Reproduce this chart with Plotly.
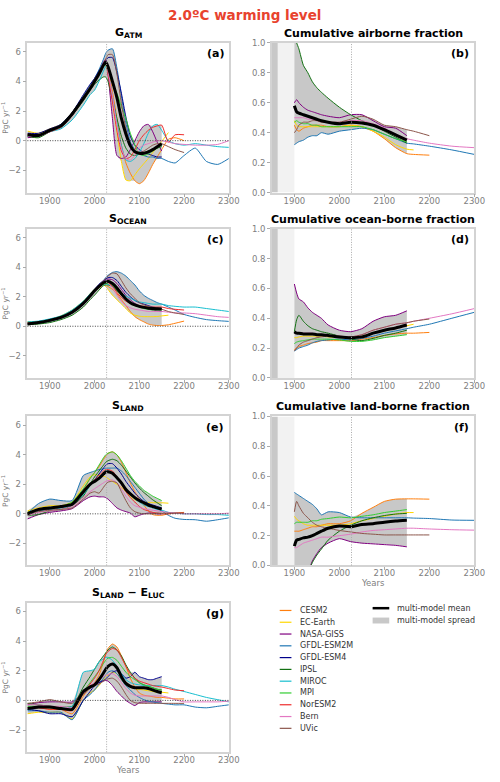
import plotly.graph_objects as go
from plotly.subplots import make_subplots

# ---------------- data ----------------
MODELS = ["CESM2", "EC-Earth", "NASA-GISS", "GFDL-ESM2M", "GFDL-ESM4", "IPSL",
          "MIROC", "MPI", "NorESM2", "Bern", "UVic"]
COLORS = ["#ff7f0e", "#ffd700", "#800080", "#1f77b4", "#00008b", "#127012",
          "#17becf", "#32cd32", "#ee2c2c", "#e377c2", "#8c564b"]

WARMING_YEAR = 2027

YEARS_L = [1850, 1875, 1900, 1925, 1950, 1975, 1990, 2000, 2010, 2020, 2025, 2030,
           2040, 2050, 2060, 2070, 2080, 2090, 2100, 2110, 2120, 2130, 2140, 2150,
           2165, 2180, 2200, 2225, 2250, 2275, 2300]
YEARS_R = [1900, 1905, 1910, 1920, 1930, 1940, 1950, 1960, 1975, 2000, 2025, 2050,
           2075, 2100, 2125, 2150, 2165, 2200, 2250, 2300]

# (a) G_ATM  [PgC/yr]
A_CESM2 = [0.4, 0.35, 0.7, 1.0, 1.8, 2.9, 3.5, 4.0, 4.5, 5.1, 5.3, 4.9, 3.3, 1.5, -0.3, -1.5, -2.2, -2.7, -2.9, -2.7, -2.2, -1.6, -1.1, -0.6, 0.1, 0.2, 0.0]
A_ECEARTH = [0.65, 0.5, 0.8, 1.1, 1.9, 3.0, 3.7, 4.2, 4.6, 5.1, 5.3, 4.6, 2.8, 0.6, -1.4, -2.65, -2.7, -2.3, -1.9, -1.55, -1.2, -0.8, -0.4, -0.05, 0.55]
A_GISS = [0.2, 0.3, 0.6, 0.9, 1.7, 2.8, 3.5, 4.0, 4.6, 5.3, 5.5, 4.5, 1.5, -1.0, -1.2, -1.1, -0.6, 0.0, 0.6, 1.0, 1.1, 0.6, -0.1, -0.7]
A_ESM2M = [0.3, 0.4, 0.7, 1.1, 1.9, 3.0, 3.7, 4.2, 4.8, 5.5, 5.9, 6.1, 6.2, 4.9, 3.0, 1.2, -0.1, -0.6, -0.9, -1.0, -1.1, -1.1, -1.2, -1.2, -1.4, -1.5, -1.0, -0.5, -1.4, -1.6, -1.2]
A_ESM4 = [0.5, 0.5, 0.8, 1.1, 1.9, 3.1, 3.8, 4.2, 4.7, 5.2, 5.4, 5.6, 5.6, 4.6, 3.2, 1.6, 0.3, -0.3, -0.6, -0.8, -0.9, -1.0, -1.1, -1.1]
A_IPSL = [0.3, 0.2, 0.6, 0.9, 1.7, 2.7, 3.4, 3.8, 4.1, 4.3, 4.3, 4.0, 2.8, 1.5, 0.3, -0.5, -0.9, -1.0, -0.9, -0.8, -0.7, -0.6, -0.5, -0.4]
A_MIROC = [0.3, 0.3, 0.6, 0.8, 1.4, 2.4, 3.1, 3.4, 4.0, 4.7, 5.0, 4.6, 3.0, 1.2, -0.3, -1.3, -1.4, -1.2, -0.8, -0.2, 0.5, 1.0, 1.1, 0.7, 0.0, -0.2, -0.3, -0.2, -0.3, -0.4, -0.45]
A_MPI = [0.3, 0.4, 0.7, 1.0, 1.8, 2.8, 3.5, 4.0, 4.5, 5.0, 5.1, 4.6, 3.9, 3.2, 2.3, 1.5, 0.5, -0.3, -0.9, -1.0, -0.9, -0.7, -0.5, -0.3]
A_NORESM2 = [0.4, 0.4, 0.7, 1.0, 1.8, 2.9, 3.6, 4.1, 4.6, 5.1, 5.2, 4.5, 2.6, 0.7, -0.7, -1.2, -1.1, -0.6, 0.0, 0.4, 0.7, 0.9, 1.0, 1.05, -0.1, 0.4, 0.4]
A_BERN = [0.3, 0.3, 0.6, 0.9, 1.7, 2.8, 3.5, 4.0, 4.6, 5.2, 5.4, 4.7, 3.0, 1.0, -0.5, -1.2, -1.3, -1.0, -0.5, -0.3, -0.2, -0.1, 0.0, 0.0, -0.1, -0.2, -0.25, -0.3, -0.3, -0.25, 0.0]
A_UVIC = [0.4, 0.3, 0.6, 0.9, 1.7, 2.8, 3.5, 4.0, 4.6, 5.2, 5.5, 5.8, 5.8, 4.5, 2.5, 0.8, -0.3, -0.7, -0.8, -0.7, -0.5, -0.3, -0.2, -0.2, -0.4, -0.6, -0.8]
A_MEAN = [0.4, 0.35, 0.7, 1.0, 1.8, 2.85, 3.5, 4.0, 4.5, 5.1, 5.3, 5.0, 4.0, 2.9, 1.5, 0.45, -0.35, -0.75, -0.85, -0.85, -0.75, -0.6, -0.4, -0.2]

# (c) S_OCEAN
C_CESM2 = [0.2, 0.25, 0.4, 0.6, 1.0, 1.6, 2.1, 2.4, 2.6, 2.8, 2.8, 2.7, 2.5, 2.2, 1.8, 1.4, 1.0, 0.65, 0.45, 0.3, 0.15, 0.08, 0.05, 0.05, 0.1, 0.2, 0.35]
C_ECEARTH = [0.3, 0.3, 0.45, 0.7, 1.1, 1.7, 2.2, 2.5, 2.7, 2.8, 2.7, 2.5, 2.1, 1.8, 1.5, 1.2, 0.9, 0.75, 0.68, 0.65, 0.65, 0.65, 0.66, 0.7, 0.75]
C_GISS = [0.15, 0.2, 0.35, 0.55, 0.9, 1.5, 2.0, 2.4, 2.75, 3.05, 3.15, 3.2, 3.15, 2.9, 2.5, 2.1, 1.8, 1.55, 1.4, 1.3, 1.2, 1.1, 1.05, 1.0]
C_ESM2M = [0.15, 0.2, 0.35, 0.55, 0.9, 1.5, 2.0, 2.4, 2.75, 3.1, 3.3, 3.45, 3.65, 3.7, 3.6, 3.4, 3.1, 2.8, 2.4, 2.1, 1.9, 1.75, 1.6, 1.5, 1.3, 1.1, 0.8, 0.6, 0.45, 0.38, 0.33]
C_ESM4 = [0.2, 0.25, 0.45, 0.65, 1.05, 1.65, 2.15, 2.5, 2.85, 3.1, 3.2, 3.3, 3.3, 3.1, 2.7, 2.3, 2.0, 1.75, 1.6, 1.5, 1.4, 1.3, 1.25, 1.2]
C_IPSL = [0.1, 0.15, 0.25, 0.45, 0.75, 1.3, 1.8, 2.1, 2.45, 2.75, 2.8, 2.8, 2.7, 2.4, 2.1, 1.8, 1.6, 1.45, 1.35, 1.3, 1.25, 1.2, 1.2, 1.2]
C_MIROC = [0.3, 0.35, 0.5, 0.7, 1.1, 1.7, 2.2, 2.5, 2.7, 2.8, 2.85, 2.85, 2.7, 2.5, 2.25, 2.05, 1.9, 1.75, 1.65, 1.6, 1.55, 1.5, 1.5, 1.5, 1.4, 1.35, 1.3, 1.3, 1.2, 1.1, 1.0]
C_MPI = [0.2, 0.25, 0.4, 0.6, 0.95, 1.55, 2.05, 2.35, 2.65, 2.85, 2.9, 2.9, 2.75, 2.45, 2.1, 1.8, 1.55, 1.4, 1.3, 1.2, 1.15, 1.1, 1.1, 1.1]
C_NORESM2 = [0.2, 0.25, 0.4, 0.6, 1.0, 1.6, 2.1, 2.4, 2.7, 2.95, 3.0, 2.95, 2.7, 2.3, 1.95, 1.7, 1.55, 1.45, 1.4, 1.35, 1.3, 1.3, 1.3, 1.3, 1.2, 1.15, 1.1]
C_BERN = [0.2, 0.25, 0.4, 0.6, 1.0, 1.55, 2.05, 2.4, 2.7, 2.95, 3.0, 2.95, 2.6, 2.1, 1.7, 1.4, 1.25, 1.15, 1.1, 1.05, 1.0, 1.0, 1.0, 1.0, 0.95, 0.9, 0.9, 0.85, 0.75, 0.65, 0.6]
C_UVIC = [0.2, 0.25, 0.4, 0.6, 1.0, 1.6, 2.1, 2.45, 2.8, 3.1, 3.25, 3.4, 3.6, 3.55, 3.1, 2.6, 2.2, 1.9, 1.6, 1.45, 1.35, 1.25, 1.2, 1.15, 1.0, 0.9, 0.8]
C_MEAN = [0.15, 0.25, 0.4, 0.6, 0.95, 1.55, 2.05, 2.4, 2.7, 2.95, 3.0, 3.05, 2.9, 2.6, 2.2, 1.85, 1.6, 1.45, 1.35, 1.28, 1.22, 1.2, 1.18, 1.17]

# (e) S_LAND
E_CESM2 = [0.1, 0.3, 0.4, 0.5, 0.7, 1.6, 2.4, 2.8, 3.2, 3.7, 3.9, 4.1, 4.2, 4.0, 3.5, 2.8, 2.1, 1.5, 1.0, 0.6, 0.2, -0.05, -0.1, -0.1, 0.0, 0.05, 0.1]
E_ECEARTH = [0.2, 0.4, 0.55, 0.55, 0.8, 1.9, 2.5, 2.65, 2.6, 2.55, 2.5, 2.4, 2.2, 2.0, 1.8, 1.5, 1.2, 0.95, 0.85, 0.8, 0.78, 0.76, 0.75, 0.75, 0.72]
E_GISS = [-0.35, -0.05, 0.1, 0.2, 0.35, 0.9, 1.15, 1.2, 1.15, 1.15, 1.1, 1.0, 0.7, 0.4, 0.25, 0.15, 0.05, -0.2, -0.1, 0.0, 0.05, 0.05, 0.0, 0.0]
E_ESM2M = [0.0, 0.7, 1.0, 0.9, 0.9, 2.6, 2.8, 2.9, 3.0, 3.05, 3.1, 3.1, 3.1, 3.1, 2.9, 2.6, 2.2, 1.8, 1.4, 1.0, 0.7, 0.5, 0.35, 0.2, -0.1, -0.3, -0.38, -0.4, -0.5, -0.4, -0.27]
E_ESM4 = [0.0, 0.2, 0.35, 0.45, 0.6, 1.4, 2.0, 2.3, 2.7, 3.1, 3.3, 3.4, 3.4, 3.1, 2.7, 2.2, 1.8, 1.4, 1.1, 0.85, 0.7, 0.6, 0.5, 0.4]
E_IPSL = [-0.1, -0.05, 0.2, 0.3, 0.55, 1.2, 2.0, 2.5, 2.9, 3.3, 3.5, 3.6, 3.7, 3.6, 3.3, 2.9, 2.5, 2.1, 1.75, 1.45, 1.2, 0.95, 0.75, 0.55]
E_MIROC = [0.0, 0.2, 0.3, 0.4, 0.6, 1.3, 1.9, 2.2, 2.5, 2.8, 2.9, 2.9, 2.8, 2.5, 2.1, 1.7, 1.3, 1.0, 0.8, 0.6, 0.5, 0.4, 0.3, 0.25, 0.1, 0.05, 0.0, 0.0, -0.05, -0.05, -0.1]
E_MPI = [0.1, 0.3, 0.4, 0.5, 0.8, 1.7, 2.4, 2.8, 3.3, 3.8, 4.0, 4.1, 4.2, 4.0, 3.6, 3.1, 2.6, 2.2, 1.9, 1.6, 1.4, 1.2, 1.05, 0.9]
E_NORESM2 = [0.0, 0.25, 0.35, 0.45, 0.65, 1.4, 2.0, 2.3, 2.6, 2.9, 3.0, 3.0, 2.9, 2.5, 2.0, 1.5, 1.1, 0.8, 0.5, 0.3, 0.2, 0.1, 0.05, 0.0, 0.0, 0.05, 0.05]
E_BERN = [-0.1, 0.1, 0.2, 0.3, 0.5, 1.1, 1.5, 1.7, 1.9, 2.1, 2.2, 2.25, 2.3, 2.1, 1.7, 1.2, 0.8, 0.55, 0.45, 0.35, 0.3, 0.25, 0.2, 0.15, 0.1, 0.05, 0.0, 0.0, 0.0, 0.0, 0.05]
E_UVIC = [0.0, 0.15, 0.25, 0.3, 0.4, 1.0, 1.4, 1.5, 1.4, 1.8, 2.0, 2.15, 2.2, 2.1, 1.5, 0.9, 0.4, 0.15, 0.05, 0.0, 0.0, 0.0, 0.05, 0.05, 0.05, 0.05, 0.05]
E_MEAN = [0.0, 0.3, 0.4, 0.5, 0.65, 1.5, 2.0, 2.2, 2.4, 2.7, 2.85, 2.85, 2.75, 2.45, 2.1, 1.65, 1.35, 1.1, 0.9, 0.75, 0.6, 0.5, 0.4, 0.32]

# (g) S_LAND - E_LUC
G_CESM2 = [-0.6, -0.5, -0.6, -0.6, -0.9, 0.3, 0.9, 1.2, 1.7, 2.6, 3.1, 3.5, 3.8, 3.6, 3.0, 2.3, 1.5, 0.9, 0.5, 0.35, 0.3, 0.25, 0.2, 0.2, 0.15, 0.1, 0.1]
G_ECEARTH = [-0.9, -0.8, -0.8, -0.8, -1.25, 0.0, 0.5, 0.7, 1.0, 1.4, 1.6, 1.7, 1.9, 1.8, 1.4, 1.1, 0.9, 0.8, 0.75, 0.7, 0.65, 0.6, 0.55, 0.55, 0.5]
G_GISS = [-0.3, -0.15, -0.1, -0.1, -0.1, 0.5, 0.9, 1.1, 1.2, 1.3, 1.35, 1.3, 1.0, 0.6, 0.3, 0.0, -0.2, -0.35, -0.15, -0.1, -0.1, -0.1, -0.1, -0.1]
G_ESM2M = [-0.7, -0.7, -0.8, -0.8, -1.3, 0.0, 0.4, 0.7, 1.1, 1.5, 1.7, 1.9, 2.0, 1.8, 1.4, 1.0, 0.7, 0.4, 0.2, 0.05, -0.05, -0.1, -0.15, -0.2, -0.25, -0.3, -0.3, -0.45, -0.5, -0.4, -0.3]
G_ESM4 = [-0.6, -0.7, -0.9, -0.9, -1.1, 0.0, 0.6, 1.0, 1.2, 1.35, 1.45, 1.6, 1.9, 2.0, 1.8, 1.5, 1.6, 1.9, 1.6, 1.5, 1.4, 1.4, 1.5, 1.6]
G_IPSL = [-0.2, -0.3, -0.4, -0.45, -0.4, 0.9, 1.6, 2.1, 2.6, 3.0, 3.2, 3.4, 3.6, 3.4, 3.0, 2.4, 1.9, 1.5, 1.2, 1.05, 0.95, 0.85, 0.75, 0.7]
G_MIROC = [-0.6, -0.5, -0.5, -0.5, -0.4, 1.9, 2.0, 2.1, 2.6, 2.8, 2.9, 2.9, 2.7, 2.3, 1.8, 1.4, 1.2, 1.1, 1.05, 1.0, 1.0, 1.0, 1.0, 1.0, 0.9, 0.75, 0.6, 0.4, 0.2, 0.05, -0.1]
G_MPI = [-0.4, -0.4, -0.5, -0.5, -0.6, 0.6, 1.2, 1.6, 2.0, 2.5, 2.7, 2.85, 2.9, 2.7, 2.3, 1.9, 1.6, 1.4, 1.2, 1.05, 0.95, 0.85, 0.75, 0.7]
G_NORESM2 = [-0.5, -0.5, -0.6, -0.6, -0.7, 0.5, 1.1, 1.5, 2.0, 2.7, 3.1, 3.3, 3.5, 3.4, 2.9, 2.3, 1.8, 1.5, 1.3, 1.2, 1.1, 1.0, 0.95, 0.9, 0.8, 0.7, 0.65]
G_BERN = [-0.3, -0.3, -0.4, -0.4, -0.5, 0.5, 1.0, 1.2, 1.4, 1.6, 1.7, 1.75, 1.8, 1.6, 1.2, 0.8, 0.5, 0.35, 0.3, 0.3, 0.3, 0.3, 0.3, 0.3, 0.2, 0.05, -0.1, -0.1, -0.1, -0.1, -0.05]
G_UVIC = [-0.2, -0.1, 0.05, -0.1, -0.2, 0.4, 0.8, 1.0, 1.1, 1.3, 1.4, 1.45, 1.5, 1.3, 0.9, 0.4, 0.0, -0.15, -0.2, -0.2, -0.2, -0.2, -0.2, -0.2, -0.2, -0.2, -0.2]
G_MEAN = [-0.55, -0.45, -0.45, -0.55, -0.6, 0.6, 0.9, 1.05, 1.4, 1.85, 2.1, 2.3, 2.45, 2.2, 1.6, 1.15, 0.95, 0.85, 0.85, 0.85, 0.8, 0.7, 0.6, 0.52]

# (b) cumulative airborne fraction (on YEARS_R)
B_CESM2 = [0.45, 0.42, 0.41, 0.43, 0.44, 0.45, 0.45, 0.45, 0.44, 0.44, 0.45, 0.44, 0.41, 0.36, 0.30, 0.26, 0.255, 0.25]
B_ECEARTH = [0.48, 0.45, 0.44, 0.44, 0.44, 0.44, 0.44, 0.44, 0.44, 0.44, 0.45, 0.44, 0.41, 0.37, 0.32, 0.29, 0.285]
B_GISS = [0.6, 0.62, 0.6, 0.57, 0.55, 0.54, 0.53, 0.52, 0.51, 0.5, 0.52, 0.52, 0.48, 0.44, 0.43, 0.38]
B_ESM2M = [0.32, 0.33, 0.34, 0.35, 0.37, 0.38, 0.38, 0.40, 0.39, 0.41, 0.42, 0.43, 0.42, 0.39, 0.36, 0.33, 0.325, 0.31, 0.285, 0.255]
B_IPSL = [1.05, 1.0, 0.96, 0.85, 0.8, 0.74, 0.7, 0.67, 0.63, 0.57, 0.52, 0.48, 0.45, 0.41, 0.37, 0.33]
B_MPI = [0.47, 0.48, 0.47, 0.46, 0.46, 0.45, 0.45, 0.44, 0.44, 0.44, 0.44, 0.44, 0.42, 0.39, 0.36, 0.34]
B_BERN = [0.5, 0.5, 0.5, 0.5, 0.49, 0.49, 0.48, 0.48, 0.47, 0.47, 0.48, 0.48, 0.46, 0.43, 0.39, 0.36, 0.35, 0.33, 0.31, 0.30]
B_UVIC = [0.40, 0.42, 0.45, 0.47, 0.47, 0.48, 0.48, 0.47, 0.47, 0.47, 0.49, 0.51, 0.49, 0.45, 0.44, 0.42, 0.41, 0.38]
B_MEAN = [0.58, 0.54, 0.53, 0.52, 0.51, 0.50, 0.49, 0.48, 0.47, 0.46, 0.47, 0.465, 0.45, 0.42, 0.385, 0.35]

# (d) cumulative ocean-borne fraction
D_CESM2 = [0.19, 0.2, 0.21, 0.22, 0.23, 0.235, 0.24, 0.25, 0.25, 0.25, 0.25, 0.26, 0.27, 0.285, 0.295, 0.30, 0.30, 0.305]
D_ECEARTH = [0.27, 0.27, 0.275, 0.28, 0.28, 0.28, 0.28, 0.28, 0.275, 0.27, 0.265, 0.28, 0.30, 0.315, 0.335, 0.35, 0.36]
D_GISS = [0.63, 0.57, 0.53, 0.51, 0.47, 0.44, 0.42, 0.40, 0.355, 0.32, 0.31, 0.33, 0.38, 0.41, 0.42, 0.45]
D_ESM2M = [0.18, 0.19, 0.2, 0.21, 0.22, 0.235, 0.245, 0.25, 0.255, 0.26, 0.255, 0.265, 0.28, 0.30, 0.315, 0.33, 0.34, 0.36, 0.40, 0.44]
D_IPSL = [0.31, 0.39, 0.42, 0.38, 0.35, 0.33, 0.32, 0.31, 0.30, 0.28, 0.26, 0.25, 0.265, 0.285, 0.30, 0.32]
D_MPI = [0.23, 0.24, 0.245, 0.25, 0.255, 0.26, 0.26, 0.26, 0.26, 0.255, 0.245, 0.245, 0.255, 0.27, 0.28, 0.29]
D_BERN = [0.30, 0.30, 0.30, 0.30, 0.30, 0.30, 0.29, 0.29, 0.285, 0.28, 0.275, 0.29, 0.32, 0.34, 0.36, 0.37, 0.38, 0.40, 0.43, 0.465]
D_UVIC = [0.18, 0.2, 0.22, 0.24, 0.25, 0.26, 0.27, 0.275, 0.28, 0.28, 0.275, 0.29, 0.32, 0.34, 0.36, 0.37, 0.38, 0.395]
D_MEAN = [0.31, 0.30, 0.30, 0.295, 0.295, 0.295, 0.29, 0.29, 0.285, 0.275, 0.27, 0.275, 0.30, 0.32, 0.335, 0.355]

# (f) cumulative land-borne fraction
F_CESM2 = [0.23, 0.23, 0.23, 0.24, 0.25, 0.26, 0.26, 0.27, 0.28, 0.28, 0.30, 0.35, 0.39, 0.43, 0.445, 0.447, 0.447, 0.445]
F_ECEARTH = [0.33, 0.31, 0.30, 0.28, 0.27, 0.27, 0.27, 0.27, 0.27, 0.27, 0.28, 0.30, 0.315, 0.33, 0.345, 0.355, 0.355]
F_GISS = [-0.3, -0.25, -0.2, -0.12, -0.05, 0.03, 0.08, 0.12, 0.15, 0.18, 0.16, 0.15, 0.145, 0.14, 0.135, 0.125]
F_ESM2M = [0.49, 0.48, 0.47, 0.45, 0.43, 0.41, 0.38, 0.34, 0.36, 0.355, 0.325, 0.32, 0.32, 0.32, 0.32, 0.32, 0.318, 0.315, 0.305, 0.303]
F_IPSL = [-0.4, -0.35, -0.3, -0.2, -0.06, 0.02, 0.07, 0.11, 0.17, 0.23, 0.27, 0.30, 0.32, 0.335, 0.345, 0.35]
F_MPI = [0.28, 0.29, 0.29, 0.29, 0.29, 0.3, 0.3, 0.31, 0.315, 0.325, 0.32, 0.33, 0.34, 0.355, 0.365, 0.375]
F_BERN = [0.12, 0.12, 0.13, 0.15, 0.16, 0.17, 0.18, 0.19, 0.19, 0.2, 0.21, 0.225, 0.235, 0.24, 0.245, 0.25, 0.25, 0.245, 0.24, 0.237]
F_UVIC = [0.36, 0.43, 0.40, 0.35, 0.32, 0.29, 0.27, 0.26, 0.25, 0.235, 0.225, 0.215, 0.21, 0.205, 0.205, 0.205, 0.205, 0.205]
F_MEAN = [0.13, 0.17, 0.175, 0.185, 0.19, 0.2, 0.215, 0.23, 0.25, 0.265, 0.26, 0.275, 0.28, 0.29, 0.298, 0.303]

# early (pre-1900) spread in the fraction panels
EARLY_YEARS = [1850, 1863]
EARLY_LO = [0.0, 0.0]
EARLY_HI = [1.0, 1.0]
FAINT_YEARS = [1863, 1900]
FAINT_LO = [0.0, 0.0]
FAINT_HI = [1.0, 1.0]

PANEL_A = [A_CESM2, A_ECEARTH, A_GISS, A_ESM2M, A_ESM4, A_IPSL, A_MIROC, A_MPI, A_NORESM2, A_BERN, A_UVIC]
PANEL_C = [C_CESM2, C_ECEARTH, C_GISS, C_ESM2M, C_ESM4, C_IPSL, C_MIROC, C_MPI, C_NORESM2, C_BERN, C_UVIC]
PANEL_E = [E_CESM2, E_ECEARTH, E_GISS, E_ESM2M, E_ESM4, E_IPSL, E_MIROC, E_MPI, E_NORESM2, E_BERN, E_UVIC]
PANEL_G = [G_CESM2, G_ECEARTH, G_GISS, G_ESM2M, G_ESM4, G_IPSL, G_MIROC, G_MPI, G_NORESM2, G_BERN, G_UVIC]
PANEL_B = [B_CESM2, B_ECEARTH, B_GISS, B_ESM2M, None, B_IPSL, None, B_MPI, None, B_BERN, B_UVIC]
PANEL_D = [D_CESM2, D_ECEARTH, D_GISS, D_ESM2M, None, D_IPSL, None, D_MPI, None, D_BERN, D_UVIC]
PANEL_F = [F_CESM2, F_ECEARTH, F_GISS, F_ESM2M, None, F_IPSL, None, F_MPI, None, F_BERN, F_UVIC]

# ---------------- figure ----------------
FONT = "DejaVu Sans"
SPREAD = "#c8c8c8"
TICK_COL = "#808080"
FRAME = "#d3d3d3"
W, H = 500.0, 782.0

fig = make_subplots(rows=4, cols=2, specs=[[{}, {}], [{}, {}], [{}, {}], [{}, None]])


def pad(vals, n):
    return list(vals) + [None] * (n - len(vals))


def add_panel(row, col, years, series, mean):
    n = len(mean)
    lo, hi = [], []
    for i in range(n):
        vs = [s[i] for s in series if s is not None and i < len(s)]
        lo.append(min(vs))
        hi.append(max(vs))
    ln = dict(width=0, shape="spline", smoothing=0.6)
    fig.add_trace(go.Scatter(x=years[:n], y=lo, mode="lines", line=ln,
                             hoverinfo="skip", showlegend=False), row=row, col=col)
    fig.add_trace(go.Scatter(x=years[:n], y=hi, mode="lines", line=ln, fill="tonexty",
                             fillcolor=SPREAD, hoverinfo="skip", showlegend=False),
                  row=row, col=col)
    for s, name, c in zip(series, MODELS, COLORS):
        if s is None:
            continue
        fig.add_trace(go.Scatter(x=years, y=pad(s, len(years)), mode="lines", name=name,
                                 line=dict(color=c, width=1, shape="spline", smoothing=0.6),
                                 showlegend=False), row=row, col=col)
    fig.add_trace(go.Scatter(x=years[:n], y=mean, mode="lines", name="multi-model mean",
                             line=dict(color="black", width=3, shape="spline", smoothing=0.6),
                             showlegend=False), row=row, col=col)


def add_early(row, col):
    fig.add_trace(go.Scatter(x=FAINT_YEARS, y=FAINT_LO, mode="lines", line=dict(width=0),
                             hoverinfo="skip", showlegend=False), row=row, col=col)
    fig.add_trace(go.Scatter(x=FAINT_YEARS, y=FAINT_HI, mode="lines", line=dict(width=0),
                             fill="tonexty", fillcolor="#f2f2f2", hoverinfo="skip",
                             showlegend=False), row=row, col=col)
    fig.add_trace(go.Scatter(x=EARLY_YEARS, y=EARLY_LO, mode="lines", line=dict(width=0),
                             hoverinfo="skip", showlegend=False), row=row, col=col)
    fig.add_trace(go.Scatter(x=EARLY_YEARS, y=EARLY_HI, mode="lines", line=dict(width=0),
                             fill="tonexty", fillcolor=SPREAD, hoverinfo="skip",
                             showlegend=False), row=row, col=col)


add_panel(1, 1, YEARS_L, PANEL_A, A_MEAN)
add_panel(2, 1, YEARS_L, PANEL_C, C_MEAN)
add_panel(3, 1, YEARS_L, PANEL_E, E_MEAN)
add_panel(4, 1, YEARS_L, PANEL_G, G_MEAN)
for r in (1, 2, 3):
    add_early(r, 2)
add_panel(1, 2, YEARS_R, PANEL_B, B_MEAN)
add_panel(2, 2, YEARS_R, PANEL_D, D_MEAN)
add_panel(3, 2, YEARS_R, PANEL_F, F_MEAN)

# axes
XL = [0.056, 0.468]
XR = [0.556, 0.970]
ROWS = [[0.757, 0.951], [0.517, 0.710], [0.274, 0.467], [0.032, 0.226]]
panels = [(1, 1, "a"), (1, 2, "b"), (2, 1, "c"), (2, 2, "d"), (3, 1, "e"), (3, 2, "f"), (4, 1, "g")]

axis_common = dict(showline=True, mirror=True, linecolor=FRAME, linewidth=1.5,
                   showgrid=False, zeroline=False, ticks="outside", ticklen=3,
                   tickcolor="#aaaaaa", tickwidth=1,
                   tickfont=dict(family=FONT, size=8.5, color=TICK_COL))

for k, (r, c, lab) in enumerate(panels):
    idx = "" if k == 0 else str(k + 1)
    xa = "xaxis" + idx
    ya = "yaxis" + idx
    fig.layout[xa].update(domain=XL if c == 1 else XR, range=[1850, 2300],
                          tickvals=[1900, 2000, 2100, 2200, 2300],
                          ticklabelstandoff=-4, **axis_common)
    if c == 1:
        fig.layout[ya].update(domain=ROWS[r - 1], range=[-3.5, 6.6],
                              tickvals=[-2, 0, 2, 4, 6],
                              ticktext=["\u22122", "0", "2", "4", "6"],
                              title=dict(text="PgC yr<sup>\u22121</sup>", standoff=2,
                                         font=dict(family=FONT, size=7.5, color=TICK_COL)),
                              **axis_common)
        fig.add_hline(y=0, row=r, col=c,
                      line=dict(color="#444444", width=1, dash="1px,1.5px"),
                      layer="above")
    else:
        fig.layout[ya].update(domain=ROWS[r - 1], range=[0, 1],
                              tickvals=[0, 0.2, 0.4, 0.6, 0.8, 1.0],
                              ticktext=["0.0", "0.2", "0.4", "0.6", "0.8", "1.0"],
                              **axis_common)
    fig.add_vline(x=WARMING_YEAR, row=r, col=c,
                  line=dict(color="#aaaaaa", width=1, dash="1px,1.5px"), layer="above")
    fig.add_annotation(text="<b>(%s)</b>" % lab, xref=xa.replace("axis", "") + " domain",
                       yref=ya.replace("axis", "") + " domain", x=0.985, y=0.985,
                       xanchor="right", yanchor="top", showarrow=False,
                       font=dict(family=FONT, size=11, color="black"))

# "Years" axis labels under (f) and (g)
for ax, ypx in (("x6", 585), ("x7", 775)):
    fig.add_annotation(text="Years", xref=ax + " domain", yref="paper", x=0.5,
                       y=1 - ypx / H, xanchor="center", yanchor="middle", showarrow=False,
                       font=dict(family=FONT, size=8.5, color=TICK_COL))

TITLES = {
    "": "<b>G<sub>ATM</sub></b>",
    "2": "<b>Cumulative airborne fraction</b>",
    "3": "<b>S<sub>OCEAN</sub></b>",
    "4": "<b>Cumulative ocean-borne fraction</b>",
    "5": "<b>S<sub>LAND</sub></b>",
    "6": "<b>Cumulative land-borne fraction</b>",
    "7": "<b>S<sub>LAND</sub> \u2212 E<sub>LUC</sub></b>",
}
for idx, txt in TITLES.items():
    fig.add_annotation(text=txt, xref="x%s domain" % idx, yref="y%s domain" % idx,
                       x=0.5, y=1.0, xanchor="center", yanchor="bottom", yshift=1,
                       showarrow=False, font=dict(family=FONT, size=11, color="black"))

fig.add_annotation(text="<b>2.0\u00baC warming level</b>", xref="paper", yref="paper",
                   x=0.5, y=1 - 10 / H, xanchor="center", yanchor="middle",
                   showarrow=False, font=dict(family=FONT, size=13.5, color="#e8432e"))

# manual legend (bottom right)
for i, (name, c) in enumerate(zip(MODELS, COLORS)):
    yy = 1 - (613.3 + 11.94 * i) / H
    fig.add_shape(type="line", xref="paper", yref="paper", x0=286 / W, x1=298 / W,
                  y0=yy, y1=yy, line=dict(color=c, width=1.2))
    fig.add_annotation(text=name, xref="paper", yref="paper", x=305 / W, y=yy,
                       xanchor="left", yanchor="middle", showarrow=False,
                       font=dict(family=FONT, size=8, color="#333333"))
ym = 1 - 611 / H
fig.add_shape(type="line", xref="paper", yref="paper", x0=381 / W, x1=398 / W,
              y0=ym, y1=ym, line=dict(color="black", width=2.5))
fig.add_annotation(text="multi-model mean", xref="paper", yref="paper", x=404 / W, y=ym,
                   xanchor="left", yanchor="middle", showarrow=False,
                   font=dict(family=FONT, size=8, color="#333333"))
ys = 1 - 623.5 / H
fig.add_shape(type="rect", xref="paper", yref="paper", x0=381 / W, x1=398 / W,
              y0=ys - 3 / H, y1=ys + 3 / H, line=dict(width=0), fillcolor=SPREAD)
fig.add_annotation(text="multi-model spread", xref="paper", yref="paper", x=404 / W, y=ys,
                   xanchor="left", yanchor="middle", showarrow=False,
                   font=dict(family=FONT, size=8, color="#333333"))

fig.update_layout(width=500, height=782, margin=dict(l=0, r=0, t=0, b=0),
                  paper_bgcolor="white", plot_bgcolor="white", showlegend=False,
                  font=dict(family=FONT))

fig.write_html("out.html", config={"displayModeBar": False},
               post_script="document.body.style.margin='0';"
                           "document.body.style.overflow='hidden';")
